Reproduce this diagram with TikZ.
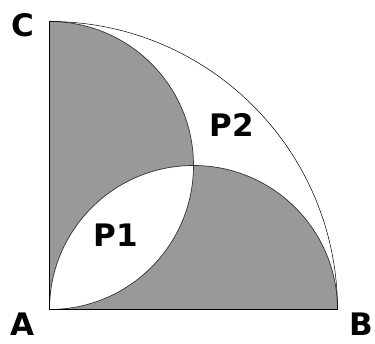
\documentclass[tikz,border=0pt]{standalone}
\usepackage{fontspec}
\setmainfont{Liberation Sans}
\newfontfamily\heavyfont{DejaVu Sans}
\definecolor{greyfill}{RGB}{153,153,153}
\begin{document}
\begin{tikzpicture}[x=1pt,y=1pt,
  lbl/.style={font=\heavyfont\fontsize{31}{31}\selectfont\bfseries, inner sep=0pt},
  plbl/.style={font=\heavyfont\fontsize{31}{31}\selectfont\bfseries, inner sep=0pt}]
\useasboundingbox (0,0) rectangle (375,344);
\coordinate (A) at (49.5,34.5);
\coordinate (B) at (337.5,34.5);
\coordinate (C) at (49.5,322.5);
% shaded semicircles, overlap left white
\fill[greyfill, even odd rule] (A) arc[start angle=180,end angle=0,radius=144] -- cycle
  (A) arc[start angle=-90,end angle=90,radius=144] -- cycle;
% semicircle outlines
\draw[black!80, line width=0.7pt] (A) arc[start angle=180,end angle=0,radius=144];
\draw[black!80, line width=0.7pt] (A) arc[start angle=-90,end angle=90,radius=144];
% quarter circle
\draw[black, line width=0.5pt] (B) arc[start angle=0,end angle=90,radius=288];
% sides
\draw[black, line width=1.6pt, line cap=rect] (C) -- (A) -- (B);
% labels
\node[lbl] (lA) at (22,20) {A};
\node[lbl] (lB) at (361,20) {B};
\node[lbl] (lC) at (23,319) {C};
\node[plbl] (p1) at (115.5,109) {P1};
\node[plbl] (p2) at (231.5,219) {P2};
\end{tikzpicture}
\end{document}
